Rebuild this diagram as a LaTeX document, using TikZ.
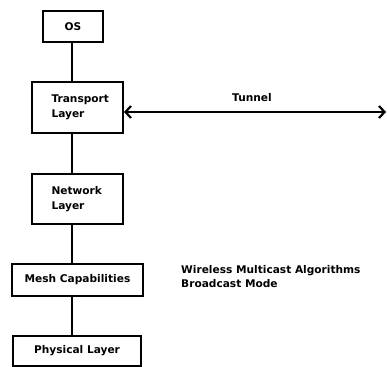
\documentclass[tikz,border=0pt]{standalone}
\usepackage{fontspec}
\setmainfont{DejaVu Sans}
\usetikzlibrary{arrows.meta}
\tikzset{barb/.tip={Straight Barb[length=5.5pt,width=12pt,line width=2.2pt]}}
\begin{document}
\begin{tikzpicture}[x=1pt,y=-1pt,
  layer/.style={draw,line width=2pt,inner sep=0pt,anchor=north west},
  lbl/.style={font=\bfseries\fontsize{10.6}{14.5}\selectfont,align=left},
  link/.style={line width=2pt}]
\useasboundingbox (0,0) rectangle (387,366);
% protocol stack boxes
\node[layer,minimum width=60pt,minimum height=31pt] (os) at (42,10) {};
\node[lbl] at (os.center) {OS};
\node[layer,minimum width=91pt,minimum height=51pt] (tl) at (31,81) {};
\node[lbl,anchor=west] at (tl.center -| 48,0) {Transport\\Layer};
\node[layer,minimum width=91pt,minimum height=50pt] (nl) at (31,173) {};
\node[lbl,anchor=west] at (nl.center -| 48,0) {Network\\Layer};
\node[layer,minimum width=131pt,minimum height=32pt] (mc) at (11,263) {};
\node[lbl] at (mc.center) {Mesh Capabilities};
\node[layer,minimum width=128pt,minimum height=30pt] (pl) at (12,335) {};
\node[lbl] at (pl.center) {Physical Layer};
% stack links
\draw[link] (os.south -| 72,0) -- (tl.north -| 72,0);
\draw[link] (tl.south -| 72,0) -- (nl.north -| 72,0);
\draw[link] (nl.south -| 72,0) -- (mc.north -| 72,0);
\draw[link] (mc.south -| 72,0) -- (pl.north -| 72,0);
% tunnel
\coordinate (far) at (386,112);
\draw[link,barb-barb] (tl.east |- far) -- (far);
\node[lbl] (tun) at (252,98) {Tunnel};
% side note
\node[lbl,anchor=north west,inner sep=0pt] (note) at (181,265) {Wireless Multicast Algorithms\\Broadcast Mode};
\end{tikzpicture}
\end{document}
